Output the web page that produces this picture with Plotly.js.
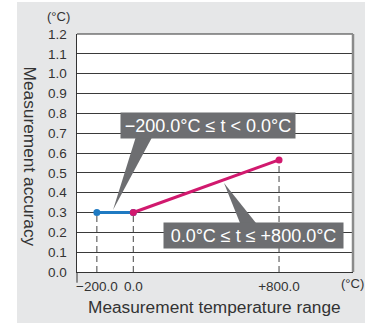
<!DOCTYPE html>
<html>
<head>
<meta charset="utf-8">
<script src="https://cdn.plot.ly/plotly-3.0.1.min.js"></script>
<style>
html,body{margin:0;padding:0;background:#fff;}
#chart{position:absolute;left:17px;top:2px;width:348px;height:321px;}
</style>
</head>
<body>
<div id="chart"></div>
<script>
// Data
const lowRangeX = [-200, 0];
const lowRangeY = [0.3, 0.3];
const highRangeX = [0, 800];
const highRangeY = [0.3, 0.565];
const dropX = [-200, 0, 800];
const dropY = [0.3, 0.3, 0.565];
const xTickVals = [-200, 0, 800];
const xTickText = ['\u2212200.0', '0.0', '+800.0'];
const yTickVals = [0, 0.1, 0.2, 0.3, 0.4, 0.5, 0.6, 0.7, 0.8, 0.9, 1.0, 1.1, 1.2];
const labelLow = '\u2212200.0\u00B0C \u2264 t < 0.0\u00B0C';
const labelHigh = '0.0\u00B0C \u2264 t \u2264 +800.0\u00B0C';

const FONT = 'Liberation Sans, Arial, Helvetica, sans-serif';
const traces = [];
dropX.forEach((x, i) => {
  traces.push({
    x: [x, x], y: [0, dropY[i]], mode: 'lines', type: 'scatter',
    line: {color: '#444', width: 1, dash: '6px,4px'}, hoverinfo: 'skip', showlegend: false
  });
});
traces.push({
  x: lowRangeX, y: lowRangeY, mode: 'lines+markers', type: 'scatter',
  line: {color: '#1f7ac2', width: 3}, marker: {color: '#1f7ac2', size: 7}, showlegend: false
});
traces.push({
  x: highRangeX, y: highRangeY, mode: 'lines+markers', type: 'scatter',
  line: {color: '#d1196e', width: 3}, marker: {color: '#d1196e', size: 7}, showlegend: false
});

const boxColor = '#6d6e71';
const layout = {
  width: 348, height: 321,
  margin: {l: 60, r: 12, t: 32, b: 51},
  paper_bgcolor: '#e6e7e8',
  plot_bgcolor: '#ffffff',
  font: {family: FONT, color: '#333', size: 13},
  showlegend: false,
  xaxis: {
    range: [-309, 1206], tickvals: xTickVals, ticktext: xTickText,
    showgrid: false, zeroline: false, showline: true, linecolor: '#333', linewidth: 1,
    ticks: '', tickfont: {size: 13.5, color: '#333'}, ticklabelstandoff: 2, fixedrange: true
  },
  yaxis: {
    range: [0, 1.2], tickvals: yTickVals, tickformat: '.1f',
    showgrid: true, gridcolor: '#3a3a3a', gridwidth: 1, zeroline: false,
    showline: true, linecolor: '#333', linewidth: 1.5,
    ticks: '', tickfont: {size: 13.5, color: '#333'}, ticklabelstandoff: 6, fixedrange: true
  },
  shapes: [
    {type: 'line', xref: 'paper', yref: 'paper', x0: 0, x1: 1, y0: 1, y1: 1, line: {color: '#333', width: 1}},
    {type: 'line', xref: 'paper', yref: 'paper', x0: 1, x1: 1, y0: 0, y1: 1, line: {color: '#8a8a8a', width: 2.5}},
    {type: 'line', xref: 'paper', yref: 'paper', x0: 0, x1: 0, y0: 0, y1: -0.045, line: {color: '#333', width: 1}},
    {type: 'path', xref: 'paper', yref: 'paper', layer: 'above',
     path: 'M 0.2210 0.5966 L 0.2862 0.5966 L 0.1304 0.2605 Z', fillcolor: boxColor, line: {width: 0}},
    {type: 'path', xref: 'paper', yref: 'paper', layer: 'above',
     path: 'M 0.5978 0.1849 L 0.6630 0.1849 L 0.5326 0.3739 Z', fillcolor: boxColor, line: {width: 0}}
  ],
  annotations: [
    {xref: 'paper', yref: 'paper', x: 0.4746, y: 0.6155, text: labelLow, showarrow: false,
     bgcolor: boxColor, width: 170, height: 21, borderpad: 2, xanchor: 'center', yanchor: 'middle',
     font: {family: FONT, size: 18, color: '#fff'}},
    {xref: 'paper', yref: 'paper', x: 0.6395, y: 0.1534, text: labelHigh, showarrow: false,
     bgcolor: boxColor, width: 175, height: 21, borderpad: 2, xanchor: 'center', yanchor: 'middle',
     font: {family: FONT, size: 18, color: '#fff'}},
    {xref: 'paper', yref: 'paper', x: -0.172, y: 0.487, text: 'Measurement accuracy', showarrow: false,
     textangle: 90, xanchor: 'center', yanchor: 'middle', font: {family: FONT, size: 17.3, color: '#333'}},
    {xref: 'paper', yref: 'paper', x: 0.4964, y: -0.147, text: 'Measurement temperature range', showarrow: false,
     xanchor: 'center', yanchor: 'middle', font: {family: FONT, size: 17.3, color: '#333'}},
    {xref: 'paper', yref: 'paper', x: -0.0688, y: 1.0756, text: '(\u00B0C)', showarrow: false,
     xanchor: 'center', yanchor: 'middle', font: {family: FONT, size: 13, color: '#333'}},
    {xref: 'paper', yref: 'paper', x: 0.9964, y: -0.0504, text: '(\u00B0C)', showarrow: false,
     xanchor: 'center', yanchor: 'middle', font: {family: FONT, size: 13, color: '#333'}}
  ]
};
Plotly.newPlot('chart', traces, layout, {displayModeBar: false, staticPlot: true});
</script>
</body>
</html>
